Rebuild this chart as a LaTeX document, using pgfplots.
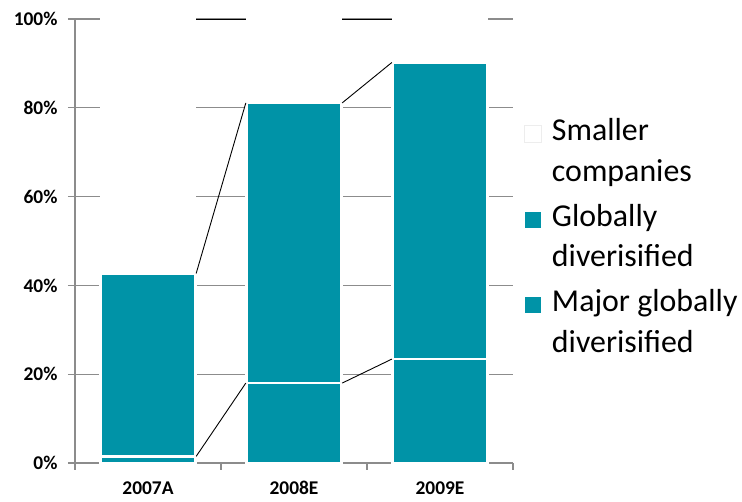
\documentclass[border=0pt]{standalone}
\usepackage{pgfplots}
\pgfplotsset{compat=1.18}
\usepackage{fontspec}
\setmainfont{Carlito}
\definecolor{tealc}{RGB}{0,147,167}
\definecolor{gridc}{RGB}{140,140,140}
\begin{document}
\begin{tikzpicture}
\useasboundingbox (-75bp,-39bp) rectangle (667bp,463bp);
\begin{axis}[
  at={(0,0)}, anchor=south west,
  scale only axis, width=438bp, height=444bp,
  xmin=-0.5, xmax=2.5, ymin=0, ymax=100,
  axis lines=left, axis line style={-, gridc, line width=1.3bp},
  clip=false,
  /pgf/number format/assume math mode=true,
  ytick={0,20,...,100},
  yticklabel={\pgfmathprintnumber{\tick}\%},
  yticklabel style={font=\fontsize{19.5}{22}\selectfont\bfseries, xshift=-7bp},
  ymajorgrids, grid style={gridc, line width=1.3bp},
  tick align=outside, major tick length=7bp,
  tick style={gridc, line width=1.3bp},
  xtick={-0.5,0.5,1.5,2.5}, xticklabels={},
  extra x ticks={0,1,2}, extra x tick labels={2007A,2008E,2009E},
  extra x tick style={major tick length=0pt, xticklabel style={font=\fontsize{19.5}{22}\selectfont\bfseries, yshift=-15bp}},
  legend style={at={(1,0.79)}, xshift=11bp, yshift=-4bp, anchor=north west, draw=none, fill=none, inner sep=0pt,
    font=\fontsize{32}{40}\selectfont, cells={align=left, anchor=west}, row sep=17bp, column sep=8bp},
]
\addplot[ybar, bar width=0.65, bar shift=0pt, fill=white, draw=white, line width=2bp,
  legend image code/.code={\draw[fill=white, draw=white!93!black, line width=0.8bp] (0bp,8bp) rectangle (17bp,25bp);}]
  coordinates {(0,100) (1,100) (2,100)};
\addlegendentry{Smaller\\[1bp]companies}
\addplot[ybar, bar width=0.65, bar shift=0pt, fill=tealc, draw=white, line width=2.5bp,
  legend image code/.code={\draw[fill=tealc, draw=white, line width=0.8bp] (0bp,8bp) rectangle (17bp,25bp);}]
  coordinates {(0,42.7) (1,81.1) (2,90.2)};
\addlegendentry{Globally\\[1bp]diverisified}
\addplot[ybar, bar width=0.65, bar shift=0pt, fill=tealc, draw=white, line width=2.5bp,
  legend image code/.code={\draw[fill=tealc, draw=white, line width=0.8bp] (0bp,8bp) rectangle (17bp,25bp);}]
  coordinates {(0,1.5) (1,18) (2,23.4)};
\addlegendentry{Major globally\\[1bp]diverisified}
\addplot[black, line width=0.9bp, forget plot] coordinates {(0.33,1.5) (0.67,18)};
\addplot[black, line width=0.9bp, forget plot] coordinates {(1.33,18) (1.67,23.4)};
\addplot[black, line width=0.9bp, forget plot] coordinates {(0.33,42.7) (0.67,81.1)};
\addplot[black, line width=0.9bp, forget plot] coordinates {(1.33,81.1) (1.67,90.2)};
\addplot[black, line width=0.9bp, forget plot] coordinates {(0.33,100) (0.67,100)};
\addplot[black, line width=0.9bp, forget plot] coordinates {(1.33,100) (1.67,100)};
\end{axis}
\end{tikzpicture}
\end{document}
